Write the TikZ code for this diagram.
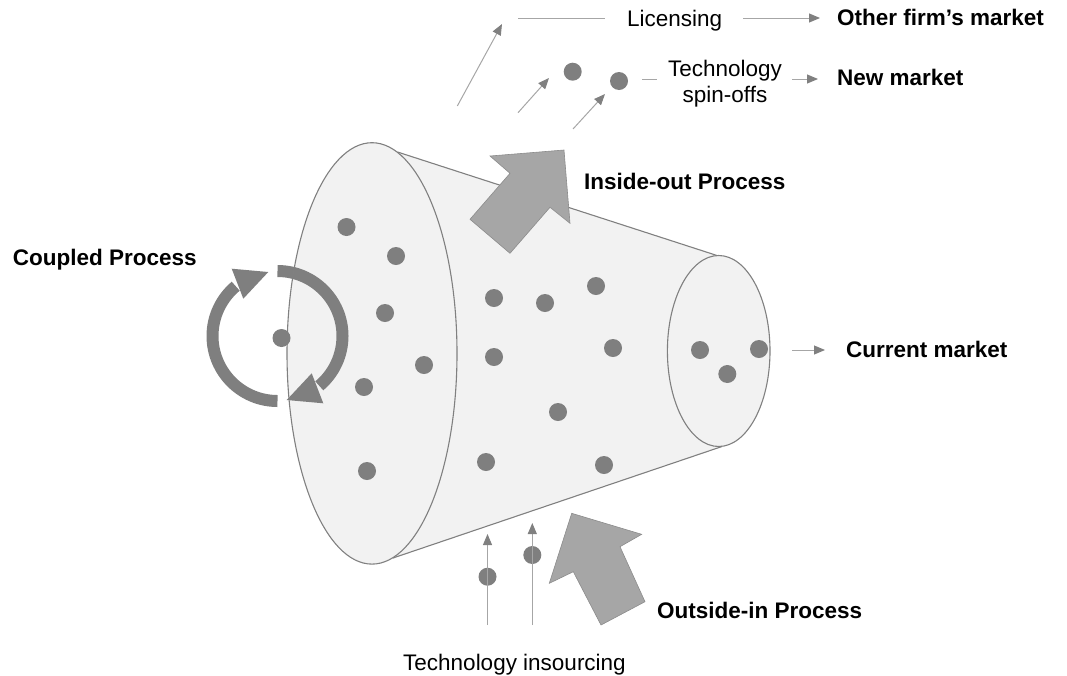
\documentclass[tikz,border=0pt]{standalone}
\usepackage{fontspec}
\setmainfont{Liberation Sans}
\usetikzlibrary{arrows.meta}
\definecolor{dotgray}{HTML}{7F7F7F}
\definecolor{conefill}{HTML}{F2F2F2}
\definecolor{conedraw}{HTML}{808080}
\definecolor{bigarrow}{HTML}{A6A6A6}
\definecolor{bigarrowdraw}{HTML}{8C8C8C}
\definecolor{thinline}{HTML}{A6A6A6}
\definecolor{headgray}{HTML}{808080}
\begin{document}
\begin{tikzpicture}[x=1pt,y=-1pt,
  font=\fontsize{22.5}{26}\selectfont,
  gdot/.style={circle,fill=dotgray,inner sep=0pt,minimum size=18pt},
  thinarrow/.style={draw=thinline,line width=1pt,-{Triangle[length=11pt,width=9pt,color=headgray]}},
  thinplain/.style={draw=thinline,line width=1pt},
  outline/.style={draw=conedraw,line width=1.1pt},
  bigarr/.style={fill=bigarrow,draw=bigarrowdraw,line width=0.6pt},
  ring/.style={draw=dotgray,line width=12pt},
  ringhead/.style={fill=dotgray},
  lbl/.style={inner sep=0pt,text=black},
  blbl/.style={inner sep=0pt,text=black,font=\fontsize{22.5}{26}\selectfont\bfseries}]
\useasboundingbox (0,0) rectangle (1067,675);
% cone body
\fill[conefill] (397.5,152) -- (717,255.5) -- (722,446.5) -- (393,558) -- cycle;
\fill[conefill] (718.7,351) ellipse[x radius=51.3,y radius=95.5];
\fill[conefill] (372,353.4) ellipse[x radius=85,y radius=210.7];
% coupled ring
\coordinate (ringc) at (277.5,336);
\draw[ring] (ringc) ++(-90:65) arc[start angle=-90,end angle=50,radius=65];
\fill[ringhead] (311.7,373.3) -- (323.3,403.3) -- (286.7,400) -- cycle;
\draw[ring] (ringc) ++(90:65) arc[start angle=90,end angle=230,radius=65];
\fill[ringhead] (243.3,298.7) -- (231.7,268.7) -- (268.3,272) -- cycle;
% outlines
\draw[outline] (718.7,351) ellipse[x radius=51.3,y radius=95.5];
\draw[outline] (372,353.4) ellipse[x radius=85,y radius=210.7];
\draw[outline] (397.5,152) -- (717,255.5);
\draw[outline] (393,558) -- (722,446.5);
% dots in big ellipse
\node[gdot] (b1) at (346.5,227) {};
\node[gdot] (b2) at (396,256) {};
\node[gdot] (b3) at (385,313) {};
\node[gdot] (b4) at (281.5,338) {};
\node[gdot] (b5) at (424,365) {};
\node[gdot] (b6) at (364,387) {};
\node[gdot] (b7) at (367,471) {};
% dots in middle
\node[gdot] (m1) at (494,298) {};
\node[gdot] (m2) at (545,303) {};
\node[gdot] (m3) at (596,286) {};
\node[gdot] (m4) at (613,348) {};
\node[gdot] (m5) at (494,357) {};
\node[gdot] (m6) at (558,412) {};
\node[gdot] (m7) at (486,462) {};
\node[gdot] (m8) at (604,465) {};
% dots in small ellipse
\node[gdot] (s1) at (700,350) {};
\node[gdot] (s2) at (727.3,374) {};
\node[gdot] (s3) at (759,349) {};
% big process arrows
\draw[bigarr] (470,219.3) -- (510,173.3) -- (490,156) -- (564,150) -- (570,223.3) -- (550,207.3) -- (510,253.3) -- cycle;
\draw[bigarr] (571.7,513.3) -- (641.7,534.3) -- (620,546.7) -- (645,601.7) -- (601,625) -- (573.3,571.7) -- (549.3,583.3) -- cycle;
% top outputs
\node[gdot] (t1) at (572.7,71.7) {};
\node[gdot] (t2) at (619,81) {};
\coordinate (l1s) at (457.3,106);
\coordinate (l1e) at (502,24);
\draw[thinarrow] (l1s) -- (l1e);
\coordinate (a2s) at (518,112.7);
\coordinate (a2e) at (549,78);
\draw[thinarrow] (a2s) -- (a2e);
\coordinate (a3s) at (573,129);
\coordinate (a3e) at (605,94);
\draw[thinarrow] (a3s) -- (a3e);
\node[lbl,anchor=base west] (lic) at (627,26) {Licensing};
\node[blbl,anchor=base west] (ofm) at (837,25.5) {Other firm’s market};
\coordinate (licl) at (518,18);
\coordinate (licr) at (605,18);
\draw[thinplain] (licl) -- (licr);
\coordinate (ofa) at (743,18);
\coordinate (ofb) at (820,18);
\draw[thinarrow] (ofa) -- (ofb);
\node[lbl,align=center,anchor=center] (tso) at (725,84) {Technology\\spin-offs};
\node[blbl,anchor=base west] (nm) at (837,85.5) {New market};
\coordinate (tsl) at (642,79);
\coordinate (tsr) at (657,79);
\draw[thinplain] (tsl) -- (tsr);
\coordinate (nma) at (792,79);
\coordinate (nmb) at (818,79);
\draw[thinarrow] (nma) -- (nmb);
% current market
\node[blbl,anchor=base west] (cm) at (846,357.3) {Current market};
\coordinate (cma) at (792,350);
\coordinate (cmb) at (825,350);
\draw[thinarrow] (cma) -- (cmb);
% process labels
\node[blbl,anchor=base west] (io) at (584,189) {Inside-out Process};
\node[blbl,anchor=base west] (cp) at (12.7,265.5) {Coupled Process};
\node[blbl,anchor=base west] (oi) at (657,618) {Outside-in Process};
% insourcing
\node[lbl,anchor=base] (ti) at (514.5,670) {Technology insourcing};
\node[gdot] (i1) at (487.5,576.7) {};
\node[gdot] (i2) at (532.3,555) {};
\coordinate (i1s) at (487.5,625);
\coordinate (i1e) at (487.5,534);
\coordinate (i2s) at (532.3,625);
\coordinate (i2e) at (532.3,523);
\draw[thinarrow] (i1s) -- (i1e);
\draw[thinarrow] (i2s) -- (i2e);
\end{tikzpicture}
\end{document}
